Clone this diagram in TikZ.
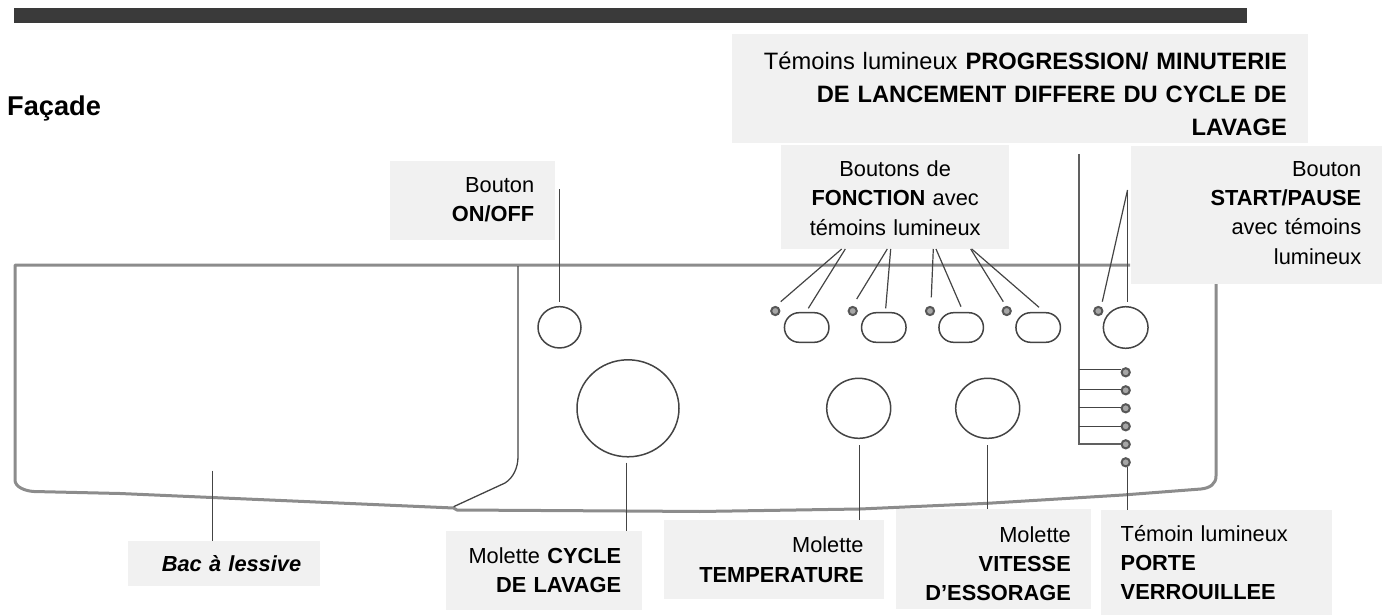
\documentclass[tikz,border=0pt]{standalone}
\usepackage{fontspec}
\usetikzlibrary{shapes.geometric}
\setmainfont{Liberation Sans}
\definecolor{boxgray}{HTML}{F1F1F1}
\definecolor{bodygray}{HTML}{8C8C8C}
\definecolor{ink}{HTML}{444444}
\definecolor{bardark}{HTML}{3A3A3A}
\tikzset{
  x=1pt,y=-1pt,
  lblbox/.style={fill=boxgray,rectangle,inner xsep=21pt,inner ysep=0pt,anchor=north west,font=\fontsize{21.8}{29.3}\selectfont},
  lead/.style={draw=ink,line width=1.2pt},
  busline/.style={draw=ink!85,line width=1.8pt},
  outline/.style={draw=bodygray,line width=3pt,line join=round},
  panel/.style={draw=ink,line width=1.3pt},
  pill/.style={rectangle,draw=ink,line width=1.5pt,rounded corners=14.7pt,minimum width=44.5pt,minimum height=29.6pt,inner sep=0pt},
  knob/.style={ellipse,draw=ink,line width=1.5pt,inner sep=0pt},
  led/.style={circle,draw=ink!90,fill=gray!70,line width=2pt,minimum size=8.2pt,inner sep=0pt},
}
\begin{document}
\begin{tikzpicture}
\useasboundingbox (0,0) rectangle (1382,615);
\fill[bardark] (14,8.5) rectangle (1247,23.3);
\node[anchor=base west,inner sep=0pt,font=\fontsize{27.2}{30}\selectfont\bfseries] (facade) at (7,115.7) {Façade};
% washing machine panel
\draw[outline] (1130,265) -- (15,265) -- (15,480) .. controls (15,487) and (25,491) .. (34,491.5)
  -- (120,493.5) -- (453.6,508) -- (457,510) -- (626,511) -- (700,511.5) -- (860,509) -- (987.5,503.3)
  -- (1123,495) -- (1201,489) .. controls (1210,488) and (1216,484) .. (1216,476) -- (1216,280);
\draw[panel] (518,266) -- (518,456.7) .. controls (518,468) and (513,478) .. (505,483) -- (453.6,506.7);
% controls
\node[knob,minimum width=43pt,minimum height=41.3pt] (onoffbtn) at (559.5,327.3) {};
\node[knob,minimum width=102pt,minimum height=97pt] (cyclek) at (628,408.3) {};
\node[knob,minimum width=64pt,minimum height=60pt] (tempk) at (858.7,408.3) {};
\node[knob,minimum width=64pt,minimum height=60pt] (spink) at (987.7,408.3) {};
\node[pill] (p1) at (806.7,327.5) {};
\node[pill] (p2) at (883.8,327.5) {};
\node[pill] (p3) at (961.2,327.5) {};
\node[pill] (p4) at (1038.2,327.5) {};
\node[knob,minimum width=44.7pt,minimum height=41.6pt] (startbtn) at (1125.7,327.5) {};
\node[led] (l1) at (775.3,311) {};
\node[led] (l2) at (852.7,311) {};
\node[led] (l3) at (930,311) {};
\node[led] (l4) at (1006.7,311) {};
\node[led] (l5) at (1098.3,311) {};
\node[led] (d1) at (1125.7,372.3) {};
\node[led] (d2) at (1125.7,390.3) {};
\node[led] (d3) at (1125.7,408.3) {};
\node[led] (d4) at (1125.7,426.3) {};
\node[led] (d5) at (1125.7,444.3) {};
\node[led] (d6) at (1125.7,462.3) {};
% labels
\node[lblbox,minimum width=165pt,minimum height=79pt,text width=123pt,align=right] (onoff) at (390,161) {Bouton\\\textbf{ON/OFF}\rule[-2pt]{0pt}{2pt}};
\node[lblbox,minimum width=575.6pt,minimum height=108.7pt,text width=533.6pt,align=right,font=\fontsize{23.7}{33}\selectfont] (prog) at (732,34) {\rule{0pt}{28pt}Témoins lumineux \textbf{PROGRESSION/ MINUTERIE}\\\textbf{DE LANCEMENT DIFFERE DU CYCLE DE}\\\textbf{LAVAGE}};
\node[lblbox,minimum width=228pt,minimum height=104.3pt,text width=186pt,align=center] (fonc) at (781,144.7) {\rule{0pt}{18pt}Boutons de\\\textbf{FONCTION} avec\\témoins lumineux};
\node[lblbox,minimum width=251.3pt,minimum height=138pt,text width=209.3pt,align=right] (start) at (1130.7,146) {Bouton\\\textbf{START/PAUSE}\\avec témoins\\lumineux\rule[-5pt]{0pt}{5pt}};
\node[lblbox,inner xsep=19pt,minimum width=192pt,minimum height=45pt,text width=154pt,align=right,font=\fontsize{21.8}{29}\selectfont\bfseries\itshape] (bac) at (128,540.7) {Bac à lessive};
\node[lblbox,minimum width=196pt,minimum height=79.3pt,text width=154pt,align=right] (cycle) at (446,530.7) {Molette \textbf{CYCLE}\\\textbf{DE LAVAGE}};
\node[lblbox,inner xsep=20pt,minimum width=219.4pt,minimum height=79pt,text width=179.4pt,align=right] (temp) at (664,520) {Molette\\\textbf{TEMPERATURE}};
\node[lblbox,inner xsep=20pt,minimum width=195pt,minimum height=100pt,text width=155pt,align=right] (spin) at (895.6,509) {\rule{0pt}{25pt}Molette\\\textbf{VITESSE}\\\textbf{D’ESSORAGE}};
\node[lblbox,inner xsep=20pt,minimum width=231pt,minimum height=104.7pt,text width=191pt,align=left] (porte) at (1100.5,510) {Témoin lumineux\\\textbf{PORTE}\\\textbf{VERROUILLEE}};
% free ends of the connectors
\coordinate (onoffT) at (559.5,189.3);
\coordinate (onoffB) at (559.5,302);
\coordinate (bacT) at (212.5,470.7);
\coordinate (cycT) at (626.5,462.7);
\coordinate (tmpT) at (859.5,445);
\coordinate (spnT) at (987.5,445);
\coordinate (drT) at (1127.5,466.7);
\coordinate (startT) at (1127.5,190);
\coordinate (s1) at (1102.3,301.7);
\coordinate (s2) at (1127.5,302.3);
\coordinate (busT) at (1079,154);
\coordinate (busB) at (1079,444.3);
\coordinate (b1) at (1079,369.5);
\coordinate (b2) at (1079,389.5);
\coordinate (b3) at (1079,407.5);
\coordinate (b4) at (1079,426.5);
\coordinate (f1a) at (841.7,249);
\coordinate (f1b) at (845.3,249);
\coordinate (f2a) at (887.3,249);
\coordinate (f2b) at (890.7,249);
\coordinate (f3a) at (933.3,249);
\coordinate (f3b) at (936,249);
\coordinate (f4a) at (970.7,249);
\coordinate (f4b) at (971.7,249);
\coordinate (e1a) at (780.7,301.7);
\coordinate (e1b) at (808.3,308.3);
\coordinate (e2a) at (856.7,299);
\coordinate (e2b) at (885.7,308.3);
\coordinate (e3a) at (931.3,297.3);
\coordinate (e3b) at (961,306.7);
\coordinate (e4a) at (1003.3,301.7);
\coordinate (e4b) at (1039,307.3);
% connectors
\draw[lead] (onoffT) -- (onoffB);
\draw[lead] (bacT) -- (bacT |- bac.north);
\draw[lead] (cycT) -- (cycT |- cycle.north);
\draw[lead] (tmpT) -- (tmpT |- temp.north);
\draw[lead] (spnT) -- (spnT |- spin.north);
\draw[lead] (drT) -- (drT |- porte.north);
\draw[lead] (startT) -- (s1);
\draw[lead] (startT) -- (s2);
\draw[lead] (f1a) -- (e1a);
\draw[lead] (f1b) -- (e1b);
\draw[lead] (f2a) -- (e2a);
\draw[lead] (f2b) -- (e2b);
\draw[lead] (f3a) -- (e3a);
\draw[lead] (f3b) -- (e3b);
\draw[lead] (f4a) -- (e4a);
\draw[lead] (f4b) -- (e4b);
\draw[busline,line join=miter] (busT) -- (busB) -- (busB -| d5.west);
\draw[lead] (b1) -- (b1 -| d1.west);
\draw[lead] (b2) -- (b2 -| d2.west);
\draw[lead] (b3) -- (b3 -| d3.west);
\draw[lead] (b4) -- (b4 -| d4.west);
\end{tikzpicture}
\end{document}
